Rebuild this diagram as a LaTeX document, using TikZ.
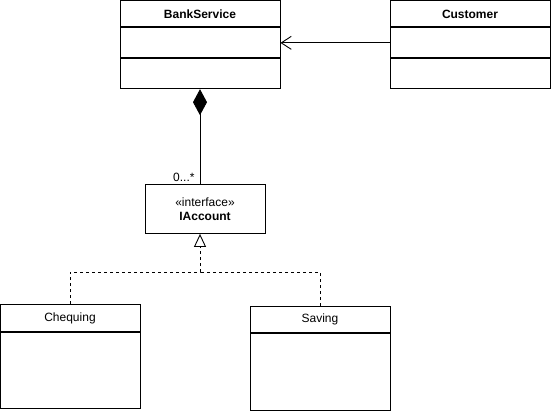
\documentclass[tikz,border=0pt]{standalone}
\usepackage{fontspec}
\setmainfont{Liberation Sans}
\usetikzlibrary{arrows.meta,positioning}

\tikzset{
  part/.style={draw,line width=0.9pt,minimum width=160pt,inner sep=0pt,anchor=north},
  small/.style={part,minimum width=140pt},
  realize/.style={line width=0.9pt,dash pattern=on 3pt off 3pt}
}

\begin{document}
\begin{tikzpicture}[x=1pt,y=-1pt,font=\fontsize{12}{14}\selectfont]
      \useasboundingbox (0,0) rectangle (551,414);
      % BankService and Customer
      \node[part,minimum height=26pt] (bs) at (200,0.5) {\textbf{BankService}};
      \node[part,minimum height=30pt] (bsattr) at (bs.south) {};
      \node[part,minimum height=30pt] (bsops) at (bsattr.south) {};
      \node[part,minimum height=26pt] (cu) at (470,0.5) {\textbf{Customer}};
      \node[part,minimum height=30pt] (cuattr) at (cu.south) {};
      \node[part,minimum height=30pt] (cuops) at (cuattr.south) {};
      \draw[line width=0.9pt,-{Straight Barb[length=10pt,width=13pt]}] (cuattr.west) -- (bsattr.east);
      % Interface
      \node[draw,line width=0.9pt,minimum width=120pt,minimum height=49pt,align=center,anchor=north] (ia) at (205,184)
        {\fontsize{12}{12.5}\selectfont «interface»\\\textbf{IAccount}};
      \draw[line width=0.9pt,{Diamond[length=26pt,width=14pt]}-] (bsops.south) -- (bsops.south |- ia.north)
        node[anchor=south east,inner sep=2pt,xshift=-3pt] (mult) {0...*};
      % Implementations
      \node[small,minimum height=27pt] (ch) at (70,304) {Chequing};
      \node[small,minimum height=76pt] (chbody) at (ch.south) {};
      \node[small,minimum height=26pt] (sv) at (320,306) {Saving};
      \node[small,minimum height=77pt] (svbody) at (sv.south) {};
      \coordinate (jn) at (200,272);
      \draw[realize] (sv.north) |- (jn);
      \draw[realize,-{Triangle[open,length=13pt,width=12pt,line width=0.9pt]}] (ch.north) |- (jn) -- (jn |- ia.south);
    \end{tikzpicture}
\end{document}
